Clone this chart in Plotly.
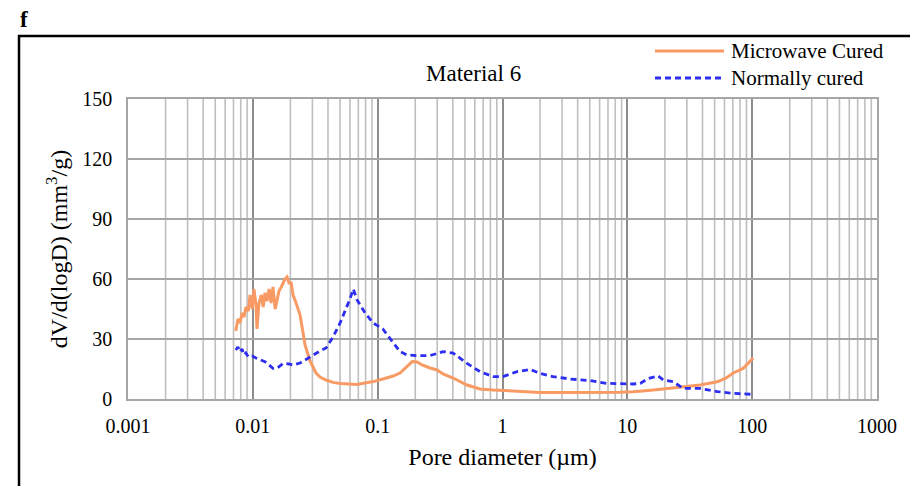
import plotly.graph_objects as go

# ---------------- data ----------------
mw_d = [0.0073, 0.0076, 0.0079, 0.0082, 0.0085, 0.0088, 0.0092, 0.0095, 0.0099, 0.0102,
        0.0106, 0.0108, 0.0112, 0.0117, 0.0121, 0.0125, 0.0130, 0.0135, 0.0140, 0.0145,
        0.0151, 0.0157, 0.0162, 0.0169, 0.0175, 0.0181, 0.0188, 0.0195, 0.0203, 0.0210,
        0.0222, 0.0239, 0.0262, 0.0287, 0.0321, 0.0345, 0.0386, 0.0439, 0.050, 0.060,
        0.068, 0.079, 0.092, 0.110, 0.133, 0.151, 0.172, 0.189, 0.207, 0.227,
        0.263, 0.299, 0.334, 0.402, 0.52, 0.66, 0.84, 1.01, 1.31, 1.66,
        2.0, 3.5, 5.0, 6.9, 8.75, 11.1, 12.7, 14.7, 17.7, 23.3,
        28.0, 38.3, 52.5, 62.0, 70.5, 84.7, 101.8]
mw_v = [34, 40, 38, 43, 41, 46, 44, 52, 45, 55,
        47, 35, 48, 52, 46, 53, 49, 55, 48, 56,
        45, 50, 54, 56, 58, 60, 61, 58, 58, 52,
        48, 42, 27, 19, 13, 11, 9.5, 8.3, 7.8, 7.3,
        7.3, 8.0, 8.7, 10.0, 11.5, 13.0, 16.5, 18.7, 18.5, 17.0,
        15.5, 14.5, 12.5, 10.5, 7.0, 5.0, 4.5, 4.2, 3.7, 3.4,
        3.3, 3.2, 3.2, 3.3, 3.4, 3.6, 3.8, 4.3, 4.8, 5.5,
        6.0, 7.0, 8.6, 10.5, 13.0, 15.3, 20.5]

nc_d = [0.0073, 0.0076, 0.0079, 0.0082, 0.0085, 0.0088, 0.0092, 0.0099, 0.0106, 0.0117,
        0.0125, 0.0135, 0.0145, 0.0157, 0.0175, 0.0195, 0.0210, 0.0239, 0.0262, 0.0298,
        0.0345, 0.0386, 0.0439, 0.050, 0.056, 0.060, 0.0638, 0.0684, 0.0793, 0.0919,
        0.110, 0.133, 0.151, 0.172, 0.207, 0.263, 0.334, 0.402, 0.52, 0.66,
        0.84, 1.01, 1.31, 1.66, 2.0, 2.54, 3.48, 5.03, 6.89, 11.1,
        12.7, 14.7, 17.7, 19.4, 23.3, 28.0, 38.3, 52.5, 70.5, 101.8]
nc_v = [24.5, 26, 23.5, 25, 22, 23, 21, 21.5, 20.5, 19.5,
        18.7, 17, 15.3, 15.5, 17.8, 17.5, 17, 18, 19.5, 22,
        24, 25.5, 31, 38, 45, 50, 55, 49.5, 43, 38,
        35, 28, 23.7, 22, 21.7, 21.7, 23.7, 23, 17.8, 13.7,
        11.2, 11.2, 13.7, 14.8, 12.8, 11.2, 10, 9.2, 7.8, 7.5,
        7.8, 10.3, 11.5, 9.5, 8.7, 5.3, 5.3, 3.7, 2.8, 2.3]

x_tickvals = [0.001, 0.01, 0.1, 1, 10, 100, 1000]
x_ticktext = ["0.001", "0.01", "0.1", "1", "10", "100", "1000"]
y_tickvals = [0, 30, 60, 90, 120, 150]

# ---------------- layout helpers ----------------
W, H = 910, 486
L, R, T, B = 128, 877, 99, 399
def px(x):
    return (x - L) / (R - L)
def py(y):
    return (B - y) / (B - T)

FONT = "Liberation Serif, Times New Roman, serif"
ORANGE = "#F79A64"
BLUE = "#2E2EF2"
DASH = "6px,4px"

fig = go.Figure()
fig.add_trace(go.Scatter(x=mw_d, y=mw_v, mode="lines", name="Microwave Cured",
                         line=dict(color=ORANGE, width=3), showlegend=False))
fig.add_trace(go.Scatter(x=nc_d, y=nc_v, mode="lines", name="Normally cured",
                         line=dict(color=BLUE, width=2.8, dash=DASH), showlegend=False))

shapes = []
# minor vertical gridlines (log 2..9)
for dec in [0.001, 0.01, 0.1, 1, 10, 100]:
    for k in range(2, 10):
        shapes.append(dict(type="line", xref="x", yref="paper", x0=dec * k, x1=dec * k,
                           y0=0, y1=1, line=dict(color="#BFBFBF", width=1.6), layer="below"))
# outer black frame
shapes.append(dict(type="line", xref="paper", yref="paper", x0=px(18), x1=px(912),
                   y0=py(36), y1=py(36), line=dict(color="black", width=2.5)))
shapes.append(dict(type="line", xref="paper", yref="paper", x0=px(19), x1=px(19),
                   y0=py(35), y1=py(490), line=dict(color="black", width=2.5)))
# legend samples
shapes.append(dict(type="line", xref="paper", yref="paper", x0=px(655), x1=px(724),
                   y0=py(51), y1=py(51), line=dict(color=ORANGE, width=3)))
shapes.append(dict(type="line", xref="paper", yref="paper", x0=px(655), x1=px(724),
                   y0=py(78), y1=py(78), line=dict(color=BLUE, width=2.8, dash=DASH)))

annotations = [
    dict(text="<b>f</b>", xref="paper", yref="paper", x=px(18), y=py(19), xanchor="left",
         yanchor="middle", showarrow=False, font=dict(family=FONT, size=23, color="black")),
    dict(text="Material 6", xref="paper", yref="paper", x=px(473), y=py(73), xanchor="center",
         yanchor="middle", showarrow=False, font=dict(family=FONT, size=23, color="black")),
    dict(text="Microwave Cured", xref="paper", yref="paper", x=px(729), y=py(51), xanchor="left",
         yanchor="middle", showarrow=False, font=dict(family=FONT, size=21, color="black")),
    dict(text="Normally cured", xref="paper", yref="paper", x=px(729), y=py(78), xanchor="left",
         yanchor="middle", showarrow=False, font=dict(family=FONT, size=21, color="black")),
]

fig.update_layout(
    width=W, height=H,
    margin=dict(l=L, r=W - R, t=T, b=H - B),
    paper_bgcolor="white", plot_bgcolor="white",
    font=dict(family=FONT, size=20, color="black"),
    shapes=shapes, annotations=annotations,
    showlegend=False,
    xaxis=dict(type="log", range=[-3, 3], tickvals=x_tickvals, ticktext=x_ticktext,
               showgrid=True, gridcolor="#8C8C8C", gridwidth=2,
               showline=True, linecolor="#A6A6A6", linewidth=1.5, mirror=True,
               ticks="", zeroline=False, ticklabelstandoff=8,
               title=dict(text="Pore diameter (µm)", font=dict(family=FONT, size=24), standoff=12),
               tickfont=dict(family=FONT, size=20)),
    yaxis=dict(range=[0, 150], tickvals=y_tickvals,
               showgrid=True, gridcolor="#A6A6A6", gridwidth=1.6,
               showline=True, linecolor="#A6A6A6", linewidth=1.5, mirror=True,
               ticks="", zeroline=False, ticklabelstandoff=10,
               title=dict(text="dV/d(logD) (mm<sup>3</sup>/g)", font=dict(family=FONT, size=24), standoff=8),
               tickfont=dict(family=FONT, size=20)),
)

fig.write_html("out.html")
